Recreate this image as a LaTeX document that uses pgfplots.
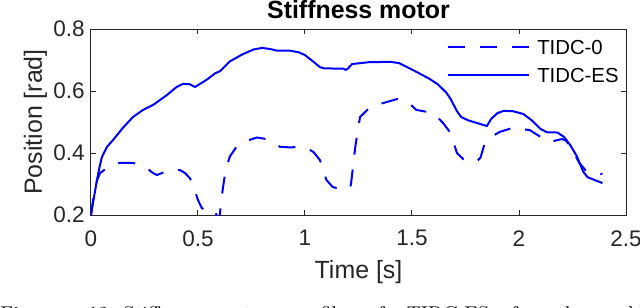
\documentclass[border=0pt]{standalone}
\usepackage{pgfplots}
\pgfplotsset{compat=1.18}
\usepackage{fontspec}
\setmainfont{Liberation Sans}
\newfontfamily\capfont{Latin Modern Roman}
\definecolor{mblue}{RGB}{0,0,255}
\definecolor{axgray}{RGB}{38,38,38}
\begin{document}
\begin{tikzpicture}
\useasboundingbox (-45.5bp,-46.5bp) rectangle (274.5bp,107.5bp);
\node[overlay, anchor=base west, inner sep=0pt, font=\capfont\fontsize{10}{12}\selectfont] at (-45.5bp,-52.5bp)
  {\makebox[44bp][l]{Figure}\makebox[17.5bp][l]{12:}\makebox[265bp][s]{Stiffness motor profile of TIDC-ES for the ankle}};
\begin{axis}[
  scale only axis, width=267.5bp, height=93bp,
  xmin=0, xmax=2.5, ymin=0.2, ymax=0.8,
  xtick={0,0.5,1,1.5,2,2.5}, ytick={0.2,0.4,0.6,0.8},
  axis line style={draw=axgray, line width=0.5bp},
  tick style={draw=axgray, line width=0.5bp},
  major tick length=2.5bp, tick align=inside,
  /pgf/number format/assume math mode=true,
  ticklabel style={font=\fontsize{11.3}{13}\selectfont, text=axgray},
  yticklabel style={/pgf/number format/fixed, /pgf/number format/precision=1, inner sep=0pt, xshift=-3bp},
  xticklabel style={/pgf/number format/fixed, inner sep=0pt, yshift=-7.5bp},
  every axis title shift=0pt,
  title={Stiffness motor},
  title style={font=\fontsize{12.5}{14}\selectfont\bfseries, at={(axis description cs:0.5,1)}, anchor=base, yshift=5.5bp, inner sep=0pt},
  xlabel={Time [s]},
  xlabel style={font=\fontsize{12.5}{14}\selectfont, text=axgray, at={(axis description cs:0.5,0)}, anchor=base, yshift=-31.5bp, inner sep=0pt},
  ylabel={Position [rad]},
  ylabel style={font=\fontsize{12.5}{14}\selectfont, text=axgray, at={(axis description cs:-0.0916,0.5)}, anchor=base, inner sep=0pt},
  legend style={at={(axis description cs:1,1)}, anchor=north east, draw=none, fill=none,
    font=\fontsize{10.2}{12}\selectfont, inner xsep=0pt, inner ysep=0pt, xshift=-3.5bp, yshift=-5bp,
    row sep=7bp, nodes={inner sep=0pt, text height=7.3bp, text depth=0bp},
    /tikz/every odd column/.append style={column sep=3.5bp}},
  legend cell align=left,
  legend image code/.code={\draw[#1] (0bp,0bp) -- (40.5bp,0bp);},
]
\addplot[mblue, line width=1bp, dash pattern=on 8.5bp off 7.5bp] coordinates {
(0,0.2) (0.01,0.25) (0.02,0.29) (0.03,0.315) (0.042,0.335) (0.075,0.352) (0.1,0.362)
(0.135,0.368) (0.196,0.368) (0.23,0.362) (0.26,0.352) (0.29,0.335) (0.308,0.329)
(0.33,0.335) (0.355,0.342) (0.416,0.345) (0.44,0.335) (0.463,0.318) (0.48,0.29)
(0.50,0.248) (0.518,0.222) (0.54,0.216) (0.58,0.216) (0.59,0.19) (0.60,0.19)
(0.615,0.28) (0.63,0.35) (0.65,0.39) (0.68,0.42) (0.73,0.44) (0.776,0.45) (0.82,0.445)
(0.86,0.43) (0.883,0.42) (0.93,0.418) (0.977,0.42) (1.01,0.415) (1.04,0.403) (1.07,0.377)
(1.10,0.313) (1.13,0.29) (1.15,0.287) (1.21,0.287) (1.215,0.30) (1.225,0.36) (1.235,0.42)
(1.257,0.516) (1.30,0.545) (1.36,0.56) (1.43,0.574) (1.48,0.565) (1.52,0.539) (1.60,0.529)
(1.645,0.497) (1.68,0.465) (1.71,0.40) (1.74,0.38) (1.76,0.377) (1.80,0.371) (1.82,0.385)
(1.84,0.432) (1.87,0.452) (1.91,0.468) (1.97,0.481) (2.05,0.474) (2.11,0.448) (2.14,0.435)
(2.17,0.44) (2.20,0.445) (2.22,0.44) (2.25,0.41) (2.28,0.37) (2.31,0.345) (2.33,0.339)
(2.39,0.332)
};
\addlegendentry{TIDC-0}
\addplot[mblue, line width=1bp] coordinates {
(0,0.2) (0.012,0.25) (0.028,0.313) (0.04,0.355) (0.051,0.387) (0.075,0.42) (0.103,0.442)
(0.15,0.482) (0.196,0.516) (0.243,0.539) (0.29,0.555) (0.355,0.587) (0.40,0.613)
(0.43,0.623) (0.46,0.622) (0.486,0.613) (0.54,0.636) (0.58,0.657) (0.603,0.664)
(0.65,0.696) (0.71,0.719) (0.76,0.734) (0.80,0.739) (0.84,0.735) (0.87,0.730)
(0.93,0.730) (0.97,0.725) (1.0,0.716) (1.04,0.694) (1.07,0.677) (1.09,0.673)
(1.18,0.672) (1.19,0.668) (1.20,0.672) (1.22,0.687) (1.30,0.693) (1.40,0.694)
(1.44,0.69) (1.52,0.662) (1.58,0.640) (1.62,0.622) (1.66,0.595) (1.68,0.575)
(1.71,0.535) (1.73,0.516) (1.76,0.506) (1.85,0.487) (1.87,0.51) (1.90,0.529)
(1.93,0.536) (1.97,0.535) (2.02,0.526) (2.06,0.505) (2.10,0.478) (2.13,0.467)
(2.18,0.466) (2.21,0.452) (2.24,0.425) (2.27,0.39) (2.30,0.34) (2.32,0.322) (2.39,0.303)
};
\addlegendentry{TIDC-ES}
\end{axis}
\end{tikzpicture}
\end{document}
